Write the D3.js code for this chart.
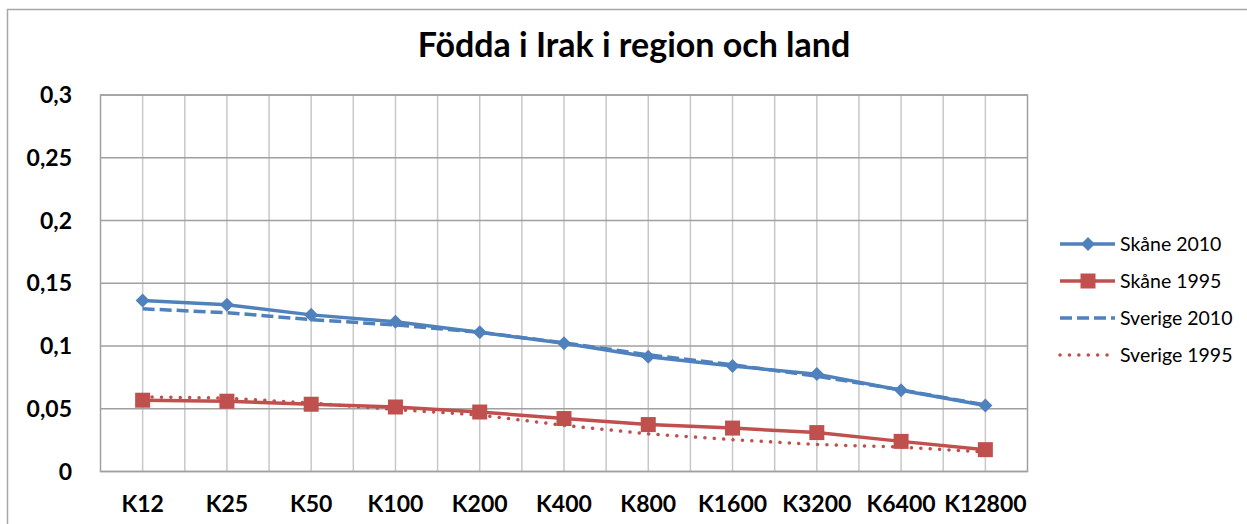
<html>
<head>
<script src="https://d3js.org/d3.v7.min.js"></script>
<style>
body { margin: 0; background: #fff; }
svg { font-family: Lato, "Open Sans", sans-serif; }
</style>
</head>
<body>
<svg width="1247" height="524"></svg>
<script>
const categories = ['K12', 'K25', 'K50', 'K100', 'K200', 'K400', 'K800', 'K1600', 'K3200', 'K6400', 'K12800'];
const skane2010 = [0.1363, 0.1328, 0.1248, 0.1194, 0.1110, 0.1022, 0.0914, 0.0840, 0.0776, 0.0648, 0.0526];
const skane1995 = [0.0568, 0.0560, 0.0536, 0.0514, 0.0474, 0.0422, 0.0374, 0.0346, 0.0310, 0.0240, 0.0174];
const sverige2010 = [0.1296, 0.1266, 0.1210, 0.1168, 0.1110, 0.1025, 0.0930, 0.0850, 0.0760, 0.0650, 0.0530];
const sverige1995 = [0.0594, 0.0585, 0.0545, 0.0494, 0.0450, 0.0368, 0.0300, 0.0254, 0.0215, 0.0195, 0.0155];
const yTicks = [0, 0.05, 0.1, 0.15, 0.2, 0.25, 0.3];

const series = [
    {name: 'Skåne 2010', values: skane2010, color: '#4F81BD', dash: null, marker: 'diamond'},
    {name: 'Skåne 1995', values: skane1995, color: '#C0504D', dash: null, marker: 'square'},
    {name: 'Sverige 2010', values: sverige2010, color: '#4F81BD', dash: '12,5', marker: null},
    {name: 'Sverige 1995', values: sverige1995, color: '#C0504D', dash: '0.1,9.3', marker: null}
];

const svg = d3.select('svg');
const plot = {left: 100.5, right: 1027.5, top: 95, bottom: 471.5};

// chart border
svg.append('rect')
    .attr('x', 7.5).attr('y', 9.5).attr('width', 1260).attr('height', 540)
    .attr('fill', 'none').attr('stroke', '#a6a6a6').attr('stroke-width', 1.5);

const x = d3.scalePoint().domain(categories).range([plot.left, plot.right]).padding(0.5);
const y = d3.scaleLinear().domain([0, 0.3]).range([plot.bottom, plot.top]);
const step = x.step();

// vertical gridlines at category centres and boundaries
const vLines = [];
categories.forEach((c, i) => {
    vLines.push(x(c));
    if (i < categories.length - 1) vLines.push(x(c) + step / 2);
});
svg.append('g').selectAll('line').data(vLines).join('line')
    .attr('x1', d => d).attr('x2', d => d)
    .attr('y1', plot.top).attr('y2', plot.bottom)
    .attr('stroke', '#c8c8c8').attr('stroke-width', 1.5);

// horizontal gridlines
svg.append('g').selectAll('line').data(yTicks).join('line')
    .attr('x1', plot.left).attr('x2', plot.right)
    .attr('y1', d => y(d)).attr('y2', d => y(d))
    .attr('stroke', '#a0a0a0').attr('stroke-width', 1.5);

// plot border
svg.append('rect')
    .attr('x', plot.left).attr('y', plot.top)
    .attr('width', plot.right - plot.left).attr('height', plot.bottom - plot.top)
    .attr('fill', 'none').attr('stroke', '#a0a0a0').attr('stroke-width', 1.5);

// y labels
svg.append('g').selectAll('text').data(yTicks).join('text')
    .attr('x', 72).attr('y', d => y(d) + 8)
    .attr('text-anchor', 'end')
    .attr('font-size', 23).attr('font-weight', 'bold').attr('fill', '#000')
    .text(d => String(d).replace('.', ','));

// x labels
svg.append('g').selectAll('text').data(categories).join('text')
    .attr('x', d => x(d)).attr('y', 512)
    .attr('text-anchor', 'middle')
    .attr('font-size', 23).attr('font-weight', 'bold').attr('fill', '#000')
    .text(d => d);

// title
svg.append('text')
    .attr('x', 634).attr('y', 57).attr('text-anchor', 'middle')
    .attr('font-size', 34).attr('font-weight', 'bold')
    .text('Födda i Irak i region och land');

const line = d3.line().x((d, i) => x(categories[i])).y(d => y(d));

function styleLine(sel, s) {
    const dotted = s.dash === '0.1,9.3';
    sel.attr('fill', 'none').attr('stroke', s.color)
        .attr('stroke-width', dotted ? 3.5 : 3.5)
        .attr('stroke-linecap', dotted ? 'round' : 'butt')
        .attr('stroke-dasharray', s.dash);
}

const drawOrder = [series[2], series[3], series[0], series[1]];
drawOrder.forEach(s => {
    svg.append('path').datum(s.values).attr('d', line).call(styleLine, s);
});

function marker(g, type, cx, cy, color) {
    if (type === 'diamond') {
        g.append('path').attr('d', d3.symbol(d3.symbolDiamond2, 125)())
            .attr('transform', `translate(${cx},${cy})`)
            .attr('fill', color);
    } else if (type === 'square') {
        g.append('rect').attr('x', cx - 7.5).attr('y', cy - 7.5)
            .attr('width', 15).attr('height', 15).attr('fill', color);
    }
}

[series[0], series[1]].forEach(s => {
    const g = svg.append('g');
    s.values.forEach((v, i) => marker(g, s.marker, x(categories[i]), y(v), s.color));
});

// legend
const legend = svg.append('g');
series.forEach((s, i) => {
    const ly = 244 + i * 37;
    legend.append('line')
        .attr('x1', 1060).attr('x2', 1115).attr('y1', ly).attr('y2', ly)
        .call(styleLine, s);
    marker(legend, s.marker, 1088, ly, s.color);
    legend.append('text')
        .attr('x', 1120).attr('y', ly + 7)
        .attr('font-size', 19.5).attr('fill', '#000')
        .text(s.name);
});
</script>
</body>
</html>
